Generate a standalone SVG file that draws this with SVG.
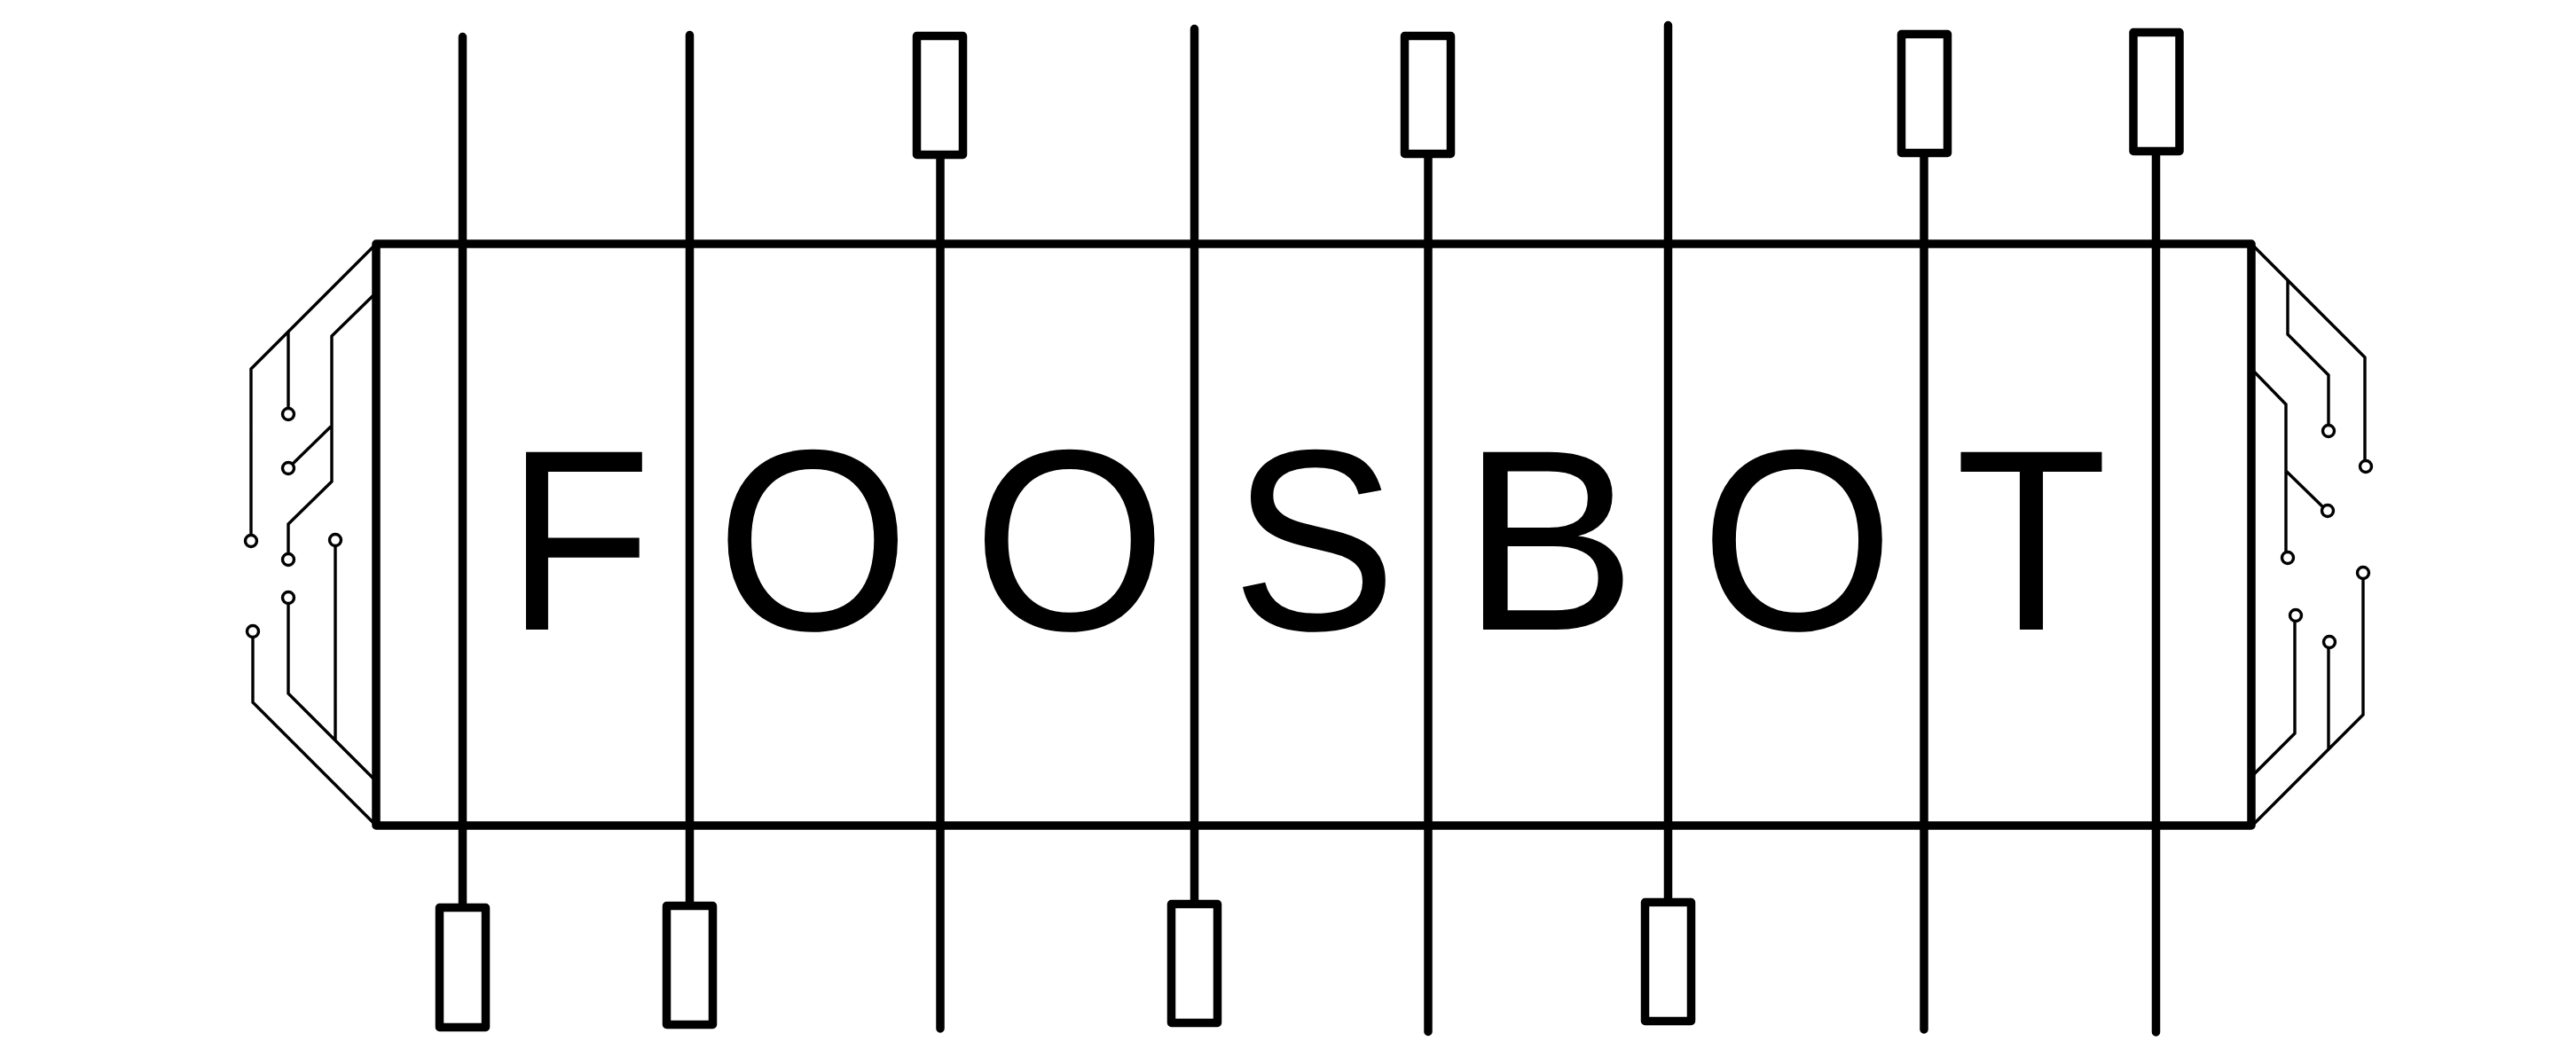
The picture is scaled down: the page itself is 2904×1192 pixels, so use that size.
<svg xmlns="http://www.w3.org/2000/svg" width="2904" height="1192" viewBox="0 0 2904 1192">
<style>
.rod{fill:none;stroke:#000;stroke-width:9.500;stroke-linecap:round;stroke-linejoin:round}
.handle{fill:#fff;stroke:#000;stroke-width:9.500;stroke-linejoin:round}
.trace{fill:none;stroke:#000;stroke-width:3.400;stroke-linejoin:miter}
.pad{fill:#fff;stroke:#000;stroke-width:3.400}
.letter{font-family:"Liberation Sans",Arial,sans-serif;font-size:291px;fill:#000}
</style>
<rect width="2904" height="1192" fill="#fff"/>
<g id="circuits">
<path class="trace" d="M424 275 283 416V606M325 374V461M424 330 374 379V543L325 591V625M373 481 329 524M378 616V836M325 680V782L424 881M285 718V792L424 931"/>
<path class="trace" d="M2538 275 2666 403V520M2579 317V377L2625 423V480M2538 416 2577 456V624M2577 531 2620 573M2587 700V827L2538 876M2625 730V845M2664 652V806L2538 932"/>
<circle class="pad" cx="283" cy="610" r="6.500"/><circle class="pad" cx="325" cy="467" r="6.500"/><circle class="pad" cx="325" cy="528" r="6.500"/><circle class="pad" cx="325" cy="631" r="6.500"/><circle class="pad" cx="378" cy="609" r="6.500"/><circle class="pad" cx="325" cy="674" r="6.500"/><circle class="pad" cx="285" cy="712" r="6.500"/>
<circle class="pad" cx="2667" cy="526" r="6.500"/><circle class="pad" cx="2625" cy="486" r="6.500"/><circle class="pad" cx="2579" cy="629" r="6.500"/><circle class="pad" cx="2624" cy="576" r="6.500"/><circle class="pad" cx="2588" cy="694" r="6.500"/><circle class="pad" cx="2626" cy="724" r="6.500"/><circle class="pad" cx="2664" cy="646" r="6.500"/>
</g>
<g id="table"><rect class="rod" x="424" y="275" width="2114" height="656"/></g>
<g id="rods">
<path class="rod" d="M521.500 41.500V1020M777.500 39.500V1018M1060 174V1160M1346.500 32.500V1016M1610 176V1163.500M1880.500 28.500V1013M2169 176V1161M2430.500 174V1164"/>
</g>
<g id="handles">
<rect class="handle" x="1033.500" y="40.500" width="52" height="134"/>
<rect class="handle" x="1583.500" y="40.500" width="52" height="133"/>
<rect class="handle" x="2143.500" y="38.500" width="52" height="134"/>
<rect class="handle" x="2405" y="36.500" width="52" height="134"/>
<rect class="handle" x="495.500" y="1023.500" width="52" height="135"/>
<rect class="handle" x="751.500" y="1021.500" width="52" height="134"/>
<rect class="handle" x="1320.500" y="1019.500" width="52" height="134"/>
<rect class="handle" x="1854.500" y="1017.500" width="52" height="134"/>
</g>
<g id="label">
<text class="letter" transform="translate(571 710) scale(.92 1)">F</text>
<text class="letter" transform="translate(807.200 710) scale(.964 1)">O</text>
<text class="letter" transform="translate(1096.700 710) scale(.964 1)">O</text>
<text class="letter" transform="translate(1388.300 710) scale(.96 1)">S</text>
<text class="letter" transform="translate(1647.700 710) scale(1.017 1)">B</text>
<text class="letter" transform="translate(1917 710) scale(.964 1)">O</text>
<text class="letter" transform="translate(2204.200 710) scale(.966 1)">T</text>
</g>
</svg>
